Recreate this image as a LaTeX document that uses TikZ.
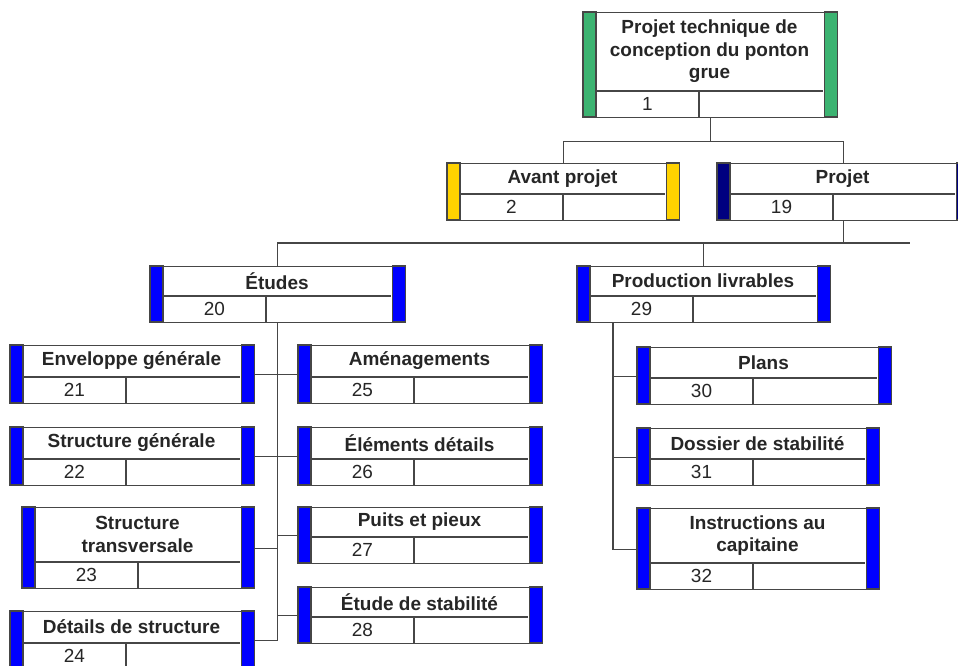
\documentclass[tikz,border=0pt]{standalone}
\usepackage{fontspec}
\setmainfont{Liberation Sans}
\usepackage{tikz}
\usepackage{xcolor}

\definecolor{wbsgreen}{RGB}{60,179,113}
\definecolor{wbsyellow}{RGB}{255,210,0}
\definecolor{wbsnavy}{RGB}{0,0,128}
\definecolor{wbsblue}{RGB}{0,0,255}
\definecolor{wbsline}{RGB}{70,70,70}

\def\pxu{0.02cm}
\tikzset{
  wbsframe/.style={rectangle, draw=wbsline, fill=white, line width=0.8pt, inner sep=0pt},
  wbsbar/.style={draw=wbsline, line width=0.8pt},
  wbstitle/.style={font=\bfseries\fontsize{10.8}{12.8}\selectfont, align=center, inner sep=0pt, text=black!85},
  wbsnum/.style={font=\fontsize{10.8}{12.8}\selectfont, inner sep=0pt, text=black!85},
  link/.style={draw=wbsline, line width=0.8pt}
}

% #1 name, #2 left, #3 top, #4 width, #5 title height, #6 bar colour, #7 number, #8 title
\newcommand{\wbsbox}[8]{%
  \node[wbsframe, anchor=north west, minimum width={#4*\pxu}, minimum height={(#5+26)*\pxu}] (#1) at (#2,#3) {};
  \filldraw[wbsbar, fill=#6] (#1.north west) rectangle ++(13,#5+26);
  \filldraw[wbsbar, fill=#6] (#1.north east) rectangle ++(-13,#5+26);
  \draw[wbsbar] (#1.north west) ++(13,#5) -- ++(#4-26,0);
  \draw[wbsbar] (#1.north west) ++(116,#5) -- ++(0,26);
  \path (#1.north west) ++(#4/2,#5/2) node[wbstitle] {#8};
  \path (#1.north west) ++(64.5,#5+13) node[wbsnum] {#7};
}

\begin{document}
\begin{tikzpicture}[x=0.02cm, y=-0.02cm]
  \useasboundingbox (0,0) rectangle (958,666);
  \fill[white] (0,0) rectangle (958,666);
  \clip (0,0) rectangle (958,666);

  % top levels
  \wbsbox{root}{583}{12}{253}{79}{wbsgreen}{1}{Projet technique de\\conception du ponton\\grue}
  \wbsbox{avant}{447}{163}{231}{31}{wbsyellow}{2}{Avant projet}
  \wbsbox{projet}{717}{163}{251}{31}{wbsnavy}{19}{Projet}
  \wbsbox{etudes}{150}{266}{254}{30}{wbsblue}{20}{Études}
  \wbsbox{prod}{577}{266}{252}{30}{wbsblue}{29}{Production livrables}

  % Etudes
  \wbsbox{env}{10}{345}{243}{32}{wbsblue}{21}{Enveloppe générale}
  \wbsbox{sgen}{10}{427}{243}{32}{wbsblue}{22}{Structure générale}
  \wbsbox{strans}{22}{507}{231}{55}{wbsblue}{23}{Structure\\transversale}
  \wbsbox{det}{10}{611}{243}{32}{wbsblue}{24}{Détails de structure}
  \wbsbox{amen}{298}{345}{243}{32}{wbsblue}{25}{Aménagements}
  \wbsbox{elem}{298}{427}{243}{32}{wbsblue}{26}{Éléments détails}
  \wbsbox{puits}{298}{507}{243}{30}{wbsblue}{27}{Puits et pieux}
  \wbsbox{stab}{298}{587}{243}{30}{wbsblue}{28}{Étude de stabilité}

  % Production livrables
  \wbsbox{plans}{637}{347}{253}{31}{wbsblue}{30}{Plans}
  \wbsbox{dossier}{637}{428}{241}{31}{wbsblue}{31}{Dossier de stabilité}
  \wbsbox{instr}{637}{508}{241}{55}{wbsblue}{32}{Instructions au\\capitaine}

  % connectors
  \draw[link] (root.south) -- ++(0,23) coordinate (j1);
  \draw[link] (avant.north) |- (j1) -| (projet.north);

  \coordinate (rowend) at (910,243);
  \draw[link] (projet.south) -- (projet.south |- rowend);
  \draw[link] (etudes.north) |- (rowend);
  \draw[link] (prod.north) -- (prod.north |- rowend);

  \draw[link] (etudes.south) -- (etudes.south |- det.east);
  \foreach \n in {env,sgen,strans,det}
    \draw[link] (\n.east) -- (\n.east -| etudes.south);
  \foreach \n in {amen,elem,puits,stab}
    \draw[link] (\n.west) -- (\n.west -| etudes.south);

  \path (prod.south west) ++(36,0) coordinate (ptrunk);
  \draw[link] (ptrunk) |- (instr.west);
  \foreach \n in {plans,dossier}
    \draw[link] (ptrunk |- \n.west) -- (\n.west);
\end{tikzpicture}
\end{document}
